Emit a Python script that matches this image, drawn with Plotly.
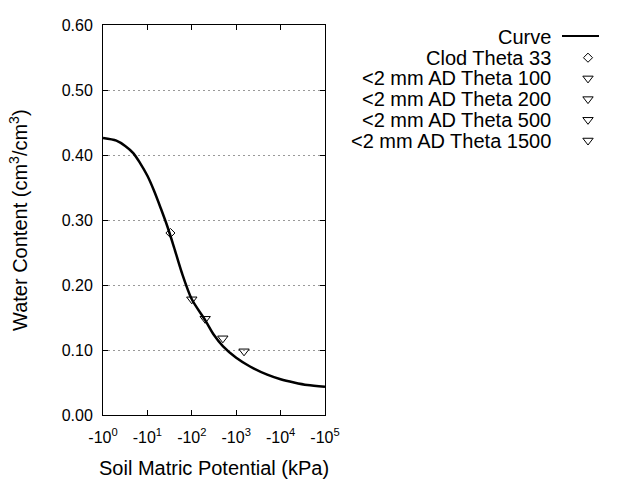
import plotly.graph_objects as go

# ---- data ----
curve_kpa = [1, 2, 3.16, 4.8, 6.8, 10, 14.1, 20, 28.2, 39.8, 58.9, 100, 200,
             316, 500, 1000, 2000, 5000, 10000, 20000, 40000, 100000]
curve_theta = [0.426, 0.422, 0.414, 0.403, 0.388, 0.368, 0.345, 0.318, 0.290,
               0.258, 0.220, 0.178, 0.146, 0.123, 0.106, 0.088, 0.075, 0.062,
               0.055, 0.050, 0.046, 0.0435]

obs_names = ["Clod Theta 33", "<2 mm AD Theta 100", "<2 mm AD Theta 200",
             "<2 mm AD Theta 500", "<2 mm AD Theta 1500"]
obs_kpa = [33, 100, 200, 500, 1500]
obs_theta = [0.28, 0.178, 0.148, 0.118, 0.098]
obs_symbols = ["diamond-open", "triangle-down-open", "triangle-down-open",
               "triangle-down-open", "triangle-down-open"]

x_tickvals = [1, 10, 100, 1000, 10000, 100000]
x_ticktext = ["-10<sup>0</sup>", "-10<sup>1</sup>", "-10<sup>2</sup>",
              "-10<sup>3</sup>", "-10<sup>4</sup>", "-10<sup>5</sup>"]
y_tickvals = [0, 0.1, 0.2, 0.3, 0.4, 0.5, 0.6]

legend_names = ["Curve"] + obs_names

FONT = "Liberation Sans, Arial, sans-serif"
W, H = 640, 480
# plot area in pixels
L, R, T, B = 103, 325, 25, 415

fig = go.Figure()
fig.add_trace(go.Scatter(x=curve_kpa, y=curve_theta, mode="lines",
                         line=dict(color="black", width=2.5, shape="spline",
                                   smoothing=0.8),
                         showlegend=False, hoverinfo="skip"))
for name, xv, yv, sym in zip(obs_names, obs_kpa, obs_theta, obs_symbols):
    size = 7 if sym.startswith("diamond") else 9
    fig.add_trace(go.Scatter(x=[xv], y=[yv], mode="markers", name=name,
                             marker=dict(symbol=sym, size=size, color="black",
                                         line=dict(width=1, color="black")),
                             showlegend=False))

# ---- custom legend (text right-aligned, symbol on the right) ----
leg_text_x = 553
leg_sym_x = 588
leg_y0 = 37
leg_dy = 20.7
annotations = []
for i, name in enumerate(legend_names):
    yy = leg_y0 + i * leg_dy
    annotations.append(dict(text=name.replace("<", "&lt;"), x=leg_text_x / W, y=1 - yy / H,
                            xref="paper", yref="paper", xanchor="right",
                            yanchor="middle", showarrow=False,
                            font=dict(family=FONT, size=20, color="black")))
shapes = [dict(type="line", xref="paper", yref="paper",
               x0=562 / W, x1=599 / W, y0=1 - 36 / H, y1=1 - 36 / H,
               line=dict(color="black", width=2))]
for i, sym in enumerate(obs_symbols):
    yy = leg_y0 + (i + 1) * leg_dy
    size = 7 if sym.startswith("diamond") else 9
    fig.add_trace(go.Scatter(x=[leg_sym_x], y=[yy], mode="markers",
                             xaxis="x2", yaxis="y2", showlegend=False,
                             hoverinfo="skip",
                             marker=dict(symbol=sym, size=size, color="black",
                                         line=dict(width=1, color="black"))))

# axis titles
annotations.append(dict(text="Soil Matric Potential (kPa)", x=((L + R) / 2) / W,
                        y=1 - 468 / H, xref="paper", yref="paper",
                        xanchor="center", yanchor="middle", showarrow=False,
                        font=dict(family=FONT, size=20, color="black")))
annotations.append(dict(text="Water Content (cm<sup>3</sup>/cm<sup>3</sup>)",
                        x=19 / W, y=1 - ((T + B) / 2) / H, textangle=-90,
                        xref="paper", yref="paper", xanchor="center",
                        yanchor="middle", showarrow=False,
                        font=dict(family=FONT, size=20, color="black")))

fig.update_layout(
    width=W, height=H,
    margin=dict(l=0, r=0, t=0, b=0),
    paper_bgcolor="white", plot_bgcolor="rgba(0,0,0,0)",
    showlegend=False,
    annotations=annotations,
    shapes=shapes,
    xaxis=dict(type="log", range=[0, 5], domain=[L / W, R / W],
               tickvals=x_tickvals, ticktext=x_ticktext,
               ticks="inside", ticklen=5, tickcolor="black",
               ticklabelstandoff=8,
               showline=True, linecolor="black", linewidth=1, mirror="allticks",
               showgrid=False, zeroline=False, automargin=False,
               tickfont=dict(family=FONT, size=16, color="black")),
    yaxis=dict(range=[0, 0.6], domain=[1 - B / H, 1 - T / H],
               tickvals=y_tickvals, tickformat=".2f",
               ticks="inside", ticklen=5, tickcolor="black",
               ticklabelstandoff=6,
               showline=True, linecolor="black", linewidth=1, mirror="allticks",
               showgrid=True, gridcolor="#999999", griddash="2px,3px", gridwidth=1,
               zeroline=False, automargin=False,
               tickfont=dict(family=FONT, size=16, color="black")),
    xaxis2=dict(domain=[0, 1], range=[0, W], visible=False, anchor="y2"),
    yaxis2=dict(domain=[0, 1], range=[H, 0], visible=False, anchor="x2"),
)

fig.write_html("out.html", config={"displayModeBar": False},
               post_script="document.body.style.margin='0';document.body.style.overflow='hidden';")
